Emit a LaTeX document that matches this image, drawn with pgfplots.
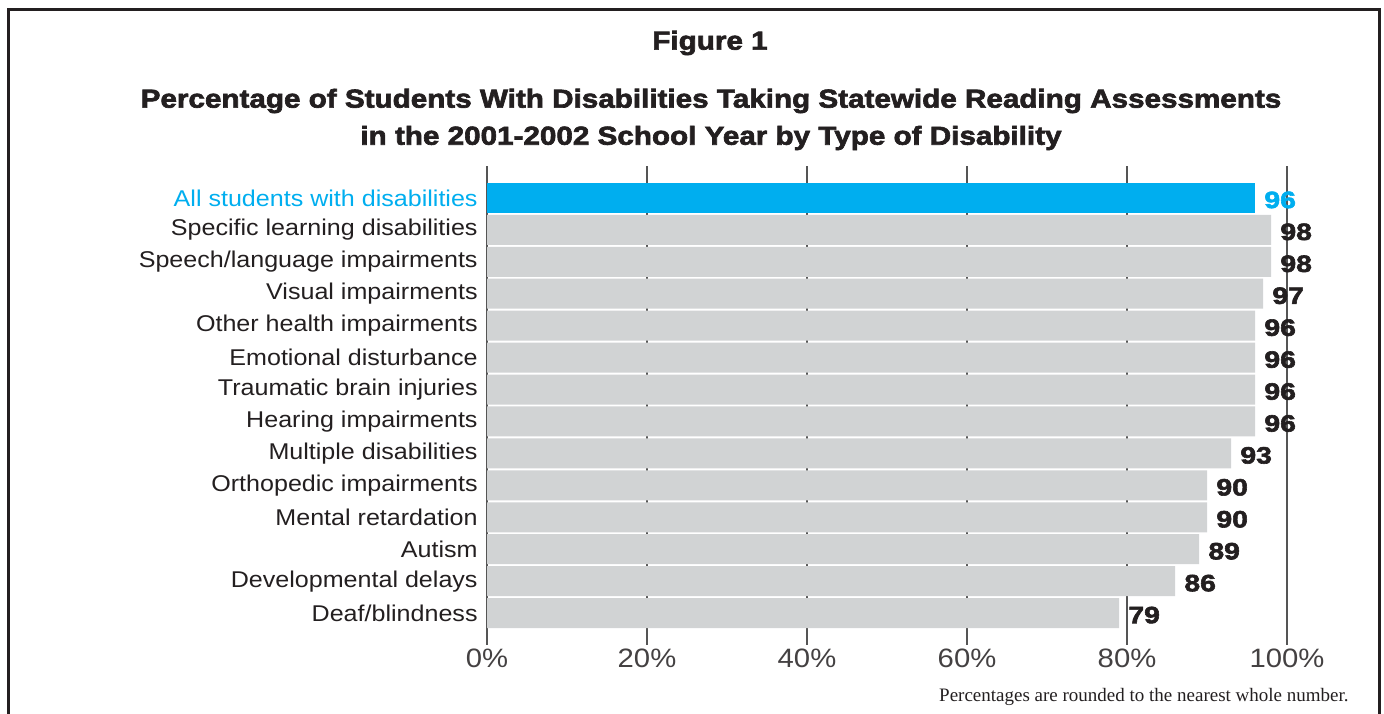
\documentclass[border=0pt]{standalone}
\usepackage{pgfplots}
\pgfplotsset{compat=1.18}
\usepackage{pgfplotstable}
\usepackage{fontspec}
\setmainfont{Liberation Sans}[FakeStretch=1.1]
\newfontfamily\heavy{Liberation Sans Bold}[FakeBold=2.5,FakeStretch=1.14]
\newfontfamily\heavynum{Liberation Sans Bold}[FakeBold=2.5,FakeStretch=1.2]
\newfontfamily\serif{Liberation Serif}
\definecolor{cblue}{RGB}{0,174,239}
\definecolor{cgray}{RGB}{209,211,212}
\definecolor{ctext}{RGB}{35,31,32}
\definecolor{cgrid}{RGB}{85,85,85}

\pgfplotstableread{
v y
96 0
}\allsd
\pgfplotstableread{
v y
98 1
98 2
97 3
96 4
96 5
96 6
96 7
93 8
90 9
90 10
89 11
86 12
79 13
}\cats

\begin{document}
\begin{tikzpicture}[x=1pt,y=1pt]
\path[use as bounding box] (0,0) rectangle (692,356.5);
\draw[line width=1.5pt, ctext] (4,-3) -- (4,351.5) -- (689.5,351.5) -- (689.5,-3);
\node[font=\heavy\fontsize{13}{15}\selectfont, text=ctext] at (355,335) {Figure 1};
\node[font=\heavy\fontsize{13}{15}\selectfont, text=ctext] at (355.5,306) {Percentage of Students With Disabilities Taking Statewide Reading Assessments};
\node[font=\heavy\fontsize{13}{15}\selectfont, text=ctext] at (355.5,287.5) {in the 2001-2002 School Year by Type of Disability};
\node[anchor=base east, inner sep=0pt, font=\serif\fontsize{9.5}{11}\selectfont, text=ctext] at (674.5,6) {Percentages are rounded to the nearest whole number.};
\begin{axis}[
  at={(243.5pt,34pt)}, anchor=south west,
  scale only axis, width=400pt, height=239.5pt,
  xmin=0, xmax=100, ymin=-1, ymax=14, y dir=reverse,
  xbar, bar width=0.94, bar shift=0pt,
  axis line style={draw=none},
  major tick length=0pt,
  xtick={0,20,...,100},
  xmajorgrids, grid style={cgrid, line width=0.75pt},
  /pgf/number format/assume math mode=true,
  xticklabel={\pgfmathprintnumber{\tick}\%},
  xticklabel style={font=\fontsize{13.3}{15}\selectfont, text=ctext!85, anchor=north, inner sep=0pt, yshift=-2pt},
  ytick={0,...,13},
  yticklabels={\textcolor{cblue}{All students with disabilities}, Specific learning disabilities, Speech/language impairments, Visual impairments, Other health impairments, Emotional disturbance, Traumatic brain injuries, Hearing impairments, Multiple disabilities, Orthopedic impairments, Mental retardation, Autism, Developmental delays, Deaf/blindness},
  yticklabel style={font=\fontsize{11.4}{13}\selectfont, text=ctext, anchor=east, inner xsep=0pt, xshift=-4.5pt},
  point meta=x,
  nodes near coords,
  nodes near coords style={font=\heavynum\fontsize{11.8}{13}\selectfont, text=ctext, anchor=west, inner xsep=0pt, xshift=4.5pt, yshift=-1pt},
]
\addplot[fill=cblue, draw=none, every node near coord/.append style={text=cblue}] table[x=v, y=y] {\allsd};
\addplot[fill=cgray, draw=none] table[x=v, y=y] {\cats};
\end{axis}
\end{tikzpicture}
\end{document}
